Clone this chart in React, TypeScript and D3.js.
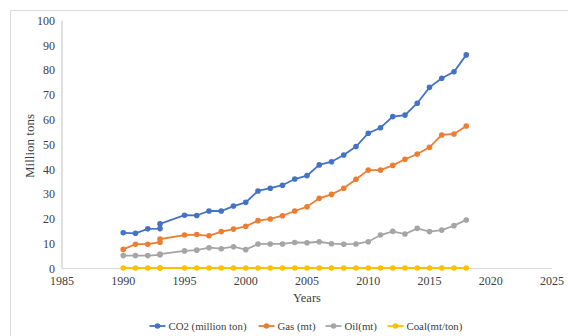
import React from "react";
import * as d3 from "d3";

// Observation years (1993 appears twice in the source series)
const years = [
  1990, 1991, 1992, 1993, 1993, 1995, 1996, 1997, 1998, 1999, 2000, 2001, 2002, 2003, 2004,
  2005, 2006, 2007, 2008, 2009, 2010, 2011, 2012, 2013, 2014, 2015, 2016, 2017, 2018,
];
const co2 = [
  14.4, 14.2, 16.0, 16.1, 18.0, 21.5, 21.4, 23.2, 23.2, 25.2, 26.7, 31.3, 32.4, 33.6, 36.1,
  37.5, 41.8, 43.1, 45.8, 49.2, 54.6, 56.8, 61.3, 61.9, 66.7, 73.1, 76.8, 79.4, 86.2,
];
const gas = [
  7.7, 9.8, 9.8, 10.6, 11.9, 13.5, 13.7, 13.2, 14.9, 15.9, 17.0, 19.3, 20.0, 21.3, 23.2,
  24.9, 28.3, 29.9, 32.4, 36.0, 39.7, 39.7, 41.6, 44.1, 46.2, 48.9, 53.9, 54.3, 57.5,
];
const oil = [
  5.2, 5.2, 5.2, 5.5, 5.8, 7.1, 7.4, 8.4, 8.0, 8.8, 7.6, 9.9, 9.9, 9.9, 10.5,
  10.4, 10.8, 10.0, 9.8, 9.9, 10.8, 13.5, 15.0, 13.9, 16.2, 14.9, 15.5, 17.3, 19.6,
];
const coal = [
  0.2, 0.2, 0.2, 0.2, 0.2, 0.2, 0.2, 0.2, 0.2, 0.2, 0.2, 0.2, 0.2, 0.2, 0.2,
  0.2, 0.2, 0.2, 0.2, 0.2, 0.2, 0.2, 0.2, 0.2, 0.2, 0.2, 0.2, 0.2, 0.2,
];

const seriesNames = ["CO2 (million ton)", "Gas (mt)", "Oil(mt)", "Coal(mt/ton)"];
const seriesColors = ["#4472C4", "#ED7D31", "#A5A5A5", "#FFC000"];
const seriesValues = [co2, gas, oil, coal];

const xTicks = [1985, 1990, 1995, 2000, 2005, 2010, 2015, 2020, 2025];
const yTicks = [0, 10, 20, 30, 40, 50, 60, 70, 80, 90, 100];

const W = 568;
const H = 336;
const FONT = '"Liberation Serif", "Times New Roman", "DejaVu Serif", serif';

// approximate legend text widths (Times metrics, 10.8px)
const legendWidths = [80, 38, 33, 58];

export default function App() {
  const x = d3.scaleLinear().domain([1985, 2025]).range([62, 552]);
  const y = d3.scaleLinear().domain([0, 100]).range([268.5, 20.7]);

  const line = d3
    .line<[number, number]>()
    .x((d) => x(d[0]))
    .y((d) => y(d[1]));

  // legend layout
  const markerW = 16;
  const gap = 10;
  const itemWidths = legendWidths.map((w) => markerW + 3 + w);
  const totalW = d3.sum(itemWidths) + gap * (itemWidths.length - 1);
  let lx = 307 - totalW / 2;
  const legendItems = seriesNames.map((name, i) => {
    const item = { name, color: seriesColors[i], x: lx };
    lx += itemWidths[i] + gap;
    return item;
  });

  const txt = { fontFamily: FONT };

  return (
    <svg
      width={W}
      height={H}
      style={{ position: "absolute", left: 0, top: 0, background: "#fff", fontFamily: FONT }}
    >
      {/* chart frame */}
      <line x1={10} y1={10.5} x2={W} y2={10.5} stroke="#d9d9d9" strokeWidth={1} />
      <line x1={10.5} y1={10} x2={10.5} y2={H} stroke="#d9d9d9" strokeWidth={1} />

      {/* axes */}
      <line x1={x(1985)} y1={y(100)} x2={x(1985)} y2={y(0)} stroke="#bfbfbf" strokeWidth={1} />
      <line x1={x(1985)} y1={y(0)} x2={x(2025)} y2={y(0)} stroke="#d9d9d9" strokeWidth={1} />

      {yTicks.map((t) => (
        <text
          key={"y" + t}
          x={55}
          y={y(t)}
          dy="0.35em"
          textAnchor="end"
          fontSize={12}
          fill="#404040"
          style={txt}
        >
          {t}
        </text>
      ))}
      {xTicks.map((t) => (
        <text
          key={"x" + t}
          x={x(t)}
          y={281}
          dy="0.35em"
          textAnchor="middle"
          fontSize={12}
          fill="#404040"
          style={txt}
        >
          {t}
        </text>
      ))}

      <text
        transform={`translate(29,146) rotate(-90)`}
        textAnchor="middle"
        dy="0.35em"
        fontSize={13}
        fill="#404040"
        style={txt}
      >
        Million tons
      </text>
      <text x={307} y={298} dy="0.35em" textAnchor="middle" fontSize={12.5} fill="#404040" style={txt}>
        Years
      </text>

      {/* series */}
      {seriesValues.map((vals, i) => {
        const pts: [number, number][] = years.map((yr, j) => [yr, vals[j]]);
        return (
          <g key={seriesNames[i]}>
            <path d={line(pts) || ""} fill="none" stroke={seriesColors[i]} strokeWidth={1.8} />
            {pts.map((p, j) => (
              <circle key={j} cx={x(p[0])} cy={y(p[1])} r={2.8} fill={seriesColors[i]} />
            ))}
          </g>
        );
      })}

      {/* legend */}
      {legendItems.map((it) => (
        <g key={it.name}>
          <line x1={it.x} y1={326} x2={it.x + markerW} y2={326} stroke={it.color} strokeWidth={1.8} />
          <circle cx={it.x + markerW / 2} cy={326} r={2.8} fill={it.color} />
          <text x={it.x + markerW + 3} y={326} dy="0.35em" fontSize={10.8} fill="#404040" style={txt}>
            {it.name}
          </text>
        </g>
      ))}
    </svg>
  );
}
